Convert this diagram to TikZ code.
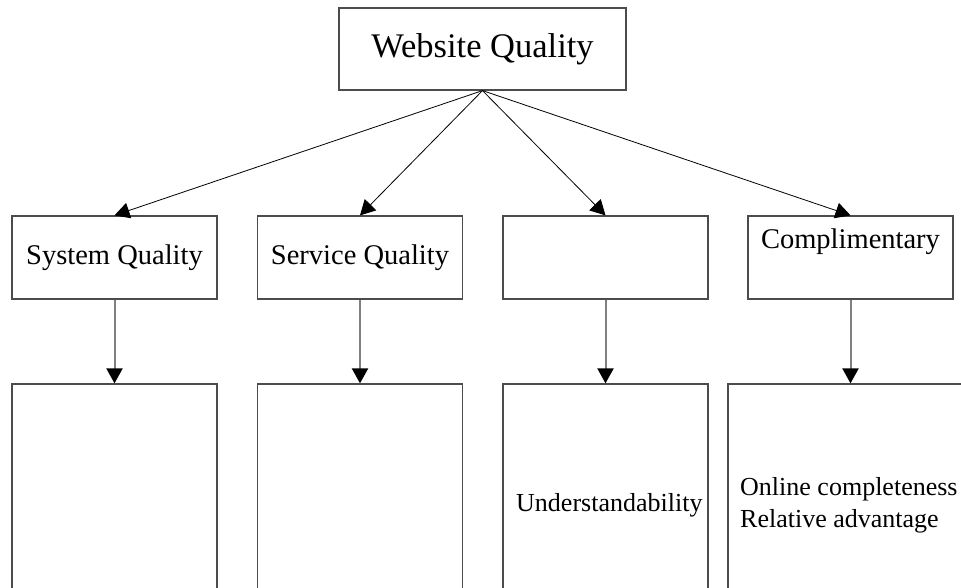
\documentclass[tikz,border=0pt]{standalone}
\usepackage{fontspec}
\setmainfont{Liberation Serif}
\usetikzlibrary{arrows.meta,positioning}

\begin{document}
\begin{tikzpicture}[x=1pt, y=-1pt, >={Triangle[length=15pt,width=16pt]}]
\tikzstyle{box}=[draw=black!70, line width=1.2pt, fill=white, inner sep=0pt]
\tikzstyle{topbox}=[box, minimum width=287pt, minimum height=82pt, font=\fontsize{34.5}{40}\selectfont]
\tikzstyle{midbox}=[box, minimum width=205pt, minimum height=83pt, font=\fontsize{28.5}{33}\selectfont]
\tikzstyle{lowbox}=[box, minimum width=205pt, minimum height=230pt]
\tikzstyle{label}=[inner sep=0pt, font=\fontsize{26}{32}\selectfont]
\tikzstyle{down}=[-{Triangle[length=15pt,width=16pt,black]}, black!50, line width=2pt]
\useasboundingbox (0,0) rectangle (961,588);
\clip (0,0) rectangle (961,588);
% top level
\node[topbox]   (web) at (482.5,49)   {Website Quality};
% second level
\node[midbox]   (sys) at (114.5,257.5) {System Quality};
\node[midbox]   (srv) at (360,257.5)   {Service Quality};
\node[midbox]   (usa) at (605.5,257.5) {};
\node[midbox]   (cmp) at (850.5,257.5) {};
\node[label, font=\fontsize{28.5}{33}\selectfont, anchor=base] (cmpt) at (850.5,248) {Complimentary};
% third level
\node[lowbox]   (b1) at (114.5,499) {};
\node[lowbox]   (b2) at (360,499)   {};
\node[lowbox]   (b3) at (605.5,499) {};
\node[lowbox, minimum width=280pt] (b4) at (868,499) {};
\node[label, anchor=base west] (und) at (516,511) {Understandability};
\node[label, anchor=base west] (onl) at (740,495) {Online completeness};
\node[label, anchor=base west] (rel) at (740,527) {Relative advantage};
% connectors
\foreach \n in {sys,srv,usa,cmp}
  \draw[->, line width=0.8pt] (web.south) -- (\n.north);
\draw[down] (sys.south) -- (b1.north);
\draw[down] (srv.south) -- (b2.north);
\draw[down] (usa.south) -- (b3.north);
\draw[down] (cmp.south) -- (cmp.south |- b4.north);
\end{tikzpicture}
\end{document}
